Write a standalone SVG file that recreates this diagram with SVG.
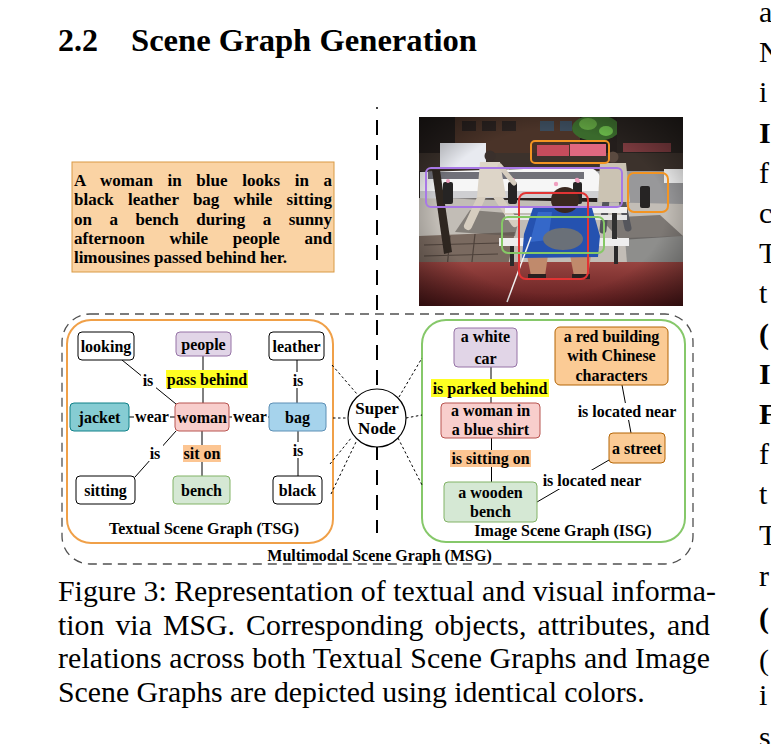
<svg xmlns="http://www.w3.org/2000/svg" width="771" height="744" viewBox="0 0 771 744">
<defs>
<style>
.t{font-family:"Liberation Serif","Times New Roman",serif;font-weight:bold;font-size:16px;text-anchor:middle;fill:#000}
.body{font-family:"Liberation Serif","Times New Roman",serif;font-size:29.8px;fill:#000}
.rc{font-family:"Liberation Serif","Times New Roman",serif;font-size:30px;fill:#000}
.nw{fill:#fff;stroke:#000;stroke-width:1}
.np{fill:#e1d5e7;stroke:#9673a6;stroke-width:1}
.nr{fill:#f8cecc;stroke:#b85450;stroke-width:1}
.ng{fill:#d5e8d4;stroke:#82b366;stroke-width:1}
.nt{fill:#86ccd3;stroke:#0e8088;stroke-width:1}
.nb{fill:#a6d3ec;stroke:#5d8fb5;stroke-width:1}
.no{fill:#fbcb95;stroke:#b46504;stroke-width:1}
.lbg{fill:#fff}
.ly{fill:#ffff22}
.lo{fill:#fcc592}
.e{stroke:#000;stroke-width:1;fill:none}
.d{stroke:#000;stroke-width:1;stroke-dasharray:2.5 2.5;fill:none}
.bb{fill:none;stroke-width:2}
</style>
<clipPath id="pc"><rect x="419" y="117" width="264" height="189"/></clipPath>
<radialGradient id="vig" cx="0.5" cy="0.5" r="0.72">
<stop offset="0.6" stop-color="#000" stop-opacity="0"/>
<stop offset="1" stop-color="#000" stop-opacity="0.55"/>
</radialGradient>
<linearGradient id="gr" x1="0" y1="0" x2="0" y2="1">
<stop offset="0" stop-color="#984440"/>
<stop offset="1" stop-color="#601c1e"/>
</linearGradient>
</defs>
<rect width="771" height="744" fill="#fff"/>

<!-- heading -->
<text x="58" y="51" style="font-family:'Liberation Serif','Times New Roman',serif;font-weight:bold;font-size:32px">2.2</text>
<text x="131" y="51" textLength="346" lengthAdjust="spacingAndGlyphs" style="font-family:'Liberation Serif','Times New Roman',serif;font-weight:bold;font-size:32px">Scene Graph Generation</text>

<!-- right column fragment -->
<g id="rightcol" class="rc">
<text x="759" y="22">a</text>
<text x="759" y="62">N</text>
<text x="759" y="102">i</text>
<text x="759" y="143" font-weight="bold">I</text>
<text x="759" y="183">f</text>
<text x="759" y="223">c</text>
<text x="759" y="263">T</text>
<text x="759" y="303">t</text>
<text x="759" y="344" font-weight="bold">(</text>
<text x="759" y="384" font-weight="bold">I</text>
<text x="759" y="424" font-weight="bold">F</text>
<text x="759" y="464">f</text>
<text x="759" y="504">t</text>
<text x="759" y="545">T</text>
<text x="759" y="586">r</text>
<text x="759" y="628" font-weight="bold">(</text>
<text x="759" y="670">(</text>
<text x="759" y="705">i</text>
<text x="759" y="747">s</text>
</g>

<!-- sentence box -->
<g id="sentence">
<rect x="72" y="162" width="262" height="110" fill="#fad3a4" stroke="#d99a45" stroke-width="1"/>
<g style="font-family:'Liberation Serif','Times New Roman',serif;font-weight:bold;font-size:17px">
<text x="74" y="186" textLength="258" lengthAdjust="spacing" word-spacing="10.4">A woman in blue looks in a</text>
<text x="74" y="205.3" textLength="258" lengthAdjust="spacing" word-spacing="10">black leather bag while sitting</text>
<text x="74" y="224.5" textLength="258" lengthAdjust="spacing" word-spacing="13.3">on a bench during a sunny</text>
<text x="74" y="243.8" textLength="258" lengthAdjust="spacing" word-spacing="20.5">afternoon while people and</text>
<text x="74" y="263" textLength="213" lengthAdjust="spacing">limousines passed behind her.</text>
</g>
</g>

<!-- photo -->
<g id="photo" clip-path="url(#pc)">
<rect x="419" y="117" width="264" height="189" fill="#241e1c"/>
<rect x="455" y="117" width="125" height="36" fill="#4a3328"/>
<rect x="462" y="121" width="14" height="10" fill="#2a2220"/>
<rect x="482" y="121" width="14" height="10" fill="#2a2220"/>
<rect x="502" y="121" width="14" height="10" fill="#2a2220"/>
<rect x="540" y="121" width="14" height="10" fill="#3a4a5a"/>
<rect x="560" y="121" width="12" height="10" fill="#3a4a5a"/>
<ellipse cx="596" cy="128" rx="24" ry="13" fill="#3a6a2c"/>
<ellipse cx="588" cy="124" rx="9" ry="6" fill="#5fa040"/>
<ellipse cx="606" cy="131" rx="7" ry="5" fill="#6ab84a"/>
<rect x="617" y="117" width="66" height="56" fill="#28221f"/>
<rect x="623" y="143" width="48" height="9" fill="#7a3a3e"/>
<rect x="419" y="153" width="264" height="18" fill="#3c322c"/>
<rect x="537" y="145" width="32" height="11" fill="#c64c5c"/>
<rect x="570" y="144" width="36" height="12" fill="#e06880"/>
<rect x="440" y="143" width="46" height="24" fill="#e8eaf0"/>
<rect x="597" y="171" width="86" height="42" fill="#98989a"/>
<rect x="664" y="169" width="19" height="14" fill="#f4f4f4"/>
<path d="M420,172 L588,167 Q601,170 602,184 L602,197 L420,199 Z" fill="#f6f6f6"/>
<rect x="428" y="172" width="156" height="7" fill="#707078"/>
<rect x="420" y="191" width="182" height="7" fill="#cfcfd2"/>
<path d="M419,198 L683,204 L683,262 L419,262 Z" fill="#c2bdb6"/>
<path d="M419,236 L515,232 L505,280 L419,282 Z" fill="#7a6a60"/>
<path d="M424,245 L500,243 M424,256 L498,254 M424,268 L496,266 M450,236 L446,280 M475,234 L470,280" stroke="#4e423b" stroke-width="1.2"/>
<path d="M625,238 L683,236 L683,300 L630,300 Z" fill="#8e8e8c"/>
<path d="M419,262 L683,262 L683,306 L419,306 Z" fill="url(#gr)"/>
<path d="M470,210 L520,214 L515,236 L455,232 Z" fill="#5a5550" opacity="0.6"/>
<path d="M600,218 L660,215 L683,236 L620,240 Z" fill="#4e4a48" opacity="0.6"/>
<path d="M432,170 L440,170 L452,252 L444,254 Z" fill="#2e2620"/>
<rect x="443" y="182" width="10" height="22" rx="2" fill="#262424"/>
<rect x="508" y="182" width="9" height="22" rx="2" fill="#262424"/>
<rect x="573" y="182" width="9" height="22" rx="2" fill="#262424"/>
<rect x="640" y="186" width="10" height="22" rx="2" fill="#262424"/>
<circle cx="448" cy="181" r="2" fill="#f0a0c0"/>
<circle cx="513" cy="180" r="2" fill="#f0a0c0"/>
<circle cx="578" cy="181" r="2" fill="#f0a0c0"/>
<!-- walking man left -->
<path d="M482,196 L468,226 M497,196 L515,223" stroke="#d6cdbf" stroke-width="8" stroke-linecap="round"/>
<path d="M480,162 L500,162 L506,197 L477,197 Z" fill="#ddd5c8"/>
<path d="M500,166 L514,183" stroke="#d6cdbf" stroke-width="5" stroke-linecap="round"/>
<circle cx="490" cy="156" r="5.5" fill="#3a302c"/>
<!-- man right -->
<path d="M606,200 L603,230 M622,200 L628,228" stroke="#55565c" stroke-width="7" stroke-linecap="round"/>
<path d="M600,163 L626,163 L630,202 L598,202 Z" fill="#cbc3b3"/>
<circle cx="613" cy="157" r="5.5" fill="#5a4a40"/>
<!-- bench -->
<rect x="505" y="207" width="122" height="6" fill="#f0f0f0"/>
<rect x="505" y="215" width="122" height="5" fill="#e6e6e6"/>
<rect x="499" y="238" width="130" height="8" fill="#eeeeee"/>
<rect x="510" y="246" width="4" height="20" fill="#2a2a2a"/>
<rect x="614" y="246" width="4" height="18" fill="#2a2a2a"/>
<rect x="612" y="213" width="5" height="26" fill="#303030"/>
<!-- woman -->
<path d="M527,255 L548,255 L545,276 L531,276 Z" fill="#c08a6c"/>
<path d="M570,255 L591,255 L588,276 L574,276 Z" fill="#c08a6c"/>
<rect x="528" y="274" width="18" height="5" fill="#2a2020"/>
<rect x="572" y="274" width="18" height="5" fill="#2a2020"/>
<path d="M533,208 L592,208 L600,236 L598,257 L522,258 L524,234 Z" fill="#2552b0"/>
<path d="M538,212 L552,212 L548,240 L530,242 Z" fill="#3a6ed0" opacity="0.8"/>
<ellipse cx="563" cy="239" rx="20" ry="11" fill="#6a7078"/>
<ellipse cx="565" cy="200" rx="14" ry="13" fill="#3a2820"/>
<circle cx="556" cy="184" r="2.2" fill="#f0a0c0"/>
<circle cx="577" cy="180" r="2.2" fill="#f0a0c0"/>
<line x1="531" y1="237" x2="507" y2="302" stroke="#f2f2f2" stroke-width="1.5"/>
<rect x="419" y="117" width="264" height="189" fill="url(#vig)"/>
<!-- detection boxes -->
<rect class="bb" x="531" y="141" width="78" height="22" rx="4" stroke="#f39422"/>
<rect class="bb" x="426" y="168" width="196" height="39" rx="5" stroke="#a878e6"/>
<rect class="bb" x="628" y="173" width="40" height="39" rx="6" stroke="#f39422"/>
<rect class="bb" x="519" y="193" width="69" height="86" rx="7" stroke="#e23434"/>
<rect class="bb" x="502" y="217" width="102" height="36" rx="6" stroke="#86c866"/>
</g>

<!-- frames -->
<g id="frames">
<line x1="377" y1="120" x2="377" y2="533" stroke="#000" stroke-width="2" stroke-dasharray="15 10"/>
<circle cx="377" cy="108" r="1" fill="#000"/>
<rect x="62" y="314" width="631" height="250" rx="28" fill="none" stroke="#505050" stroke-width="1.3" stroke-dasharray="9 6"/>
<rect x="67" y="320" width="266" height="223" rx="24" fill="none" stroke="#f0a048" stroke-width="2"/>
<rect x="422" y="320" width="263" height="222" rx="24" fill="none" stroke="#86c86a" stroke-width="2"/>
<text class="t" x="204" y="533.5">Textual Scene Graph (TSG)</text>
<text class="t" x="563" y="535.5">Image Scene Graph (ISG)</text>
<text class="t" x="379.5" y="560.5">Multimodal Scene Graph (MSG)</text>
</g>

<!-- connectors -->
<g id="connectors">
<line class="e" x1="122" y1="360" x2="176" y2="404"/>
<line class="e" x1="203" y1="356" x2="203" y2="403"/>
<line class="e" x1="297" y1="360" x2="297" y2="403"/>
<line class="e" x1="129" y1="417" x2="175" y2="417"/>
<line class="e" x1="229" y1="417" x2="269" y2="417"/>
<line class="e" x1="176" y1="431" x2="135" y2="477"/>
<line class="e" x1="202" y1="431" x2="202" y2="476"/>
<line class="e" x1="298" y1="431" x2="298" y2="476"/>
<line class="e" x1="491" y1="367" x2="491" y2="403"/>
<line class="e" x1="622" y1="385" x2="631" y2="433"/>
<line class="e" x1="491.5" y1="438" x2="491.5" y2="482"/>
<line class="e" x1="609" y1="460" x2="537" y2="502"/>
<line class="d" x1="332" y1="365" x2="357" y2="394"/>
<line class="d" x1="333" y1="418" x2="348" y2="418"/>
<line class="d" x1="330" y1="464" x2="352" y2="437"/>
<line class="d" x1="331" y1="494" x2="356" y2="442"/>
<line class="d" x1="399" y1="397" x2="422" y2="358"/>
<line class="d" x1="406" y1="418" x2="422" y2="415"/>
<line class="d" x1="398" y1="438" x2="422" y2="485"/>
<!-- edge labels -->
<rect class="lbg" x="141" y="372" width="15" height="16"/>
<text class="t" x="148" y="385.5">is</text>
<rect class="ly" x="166" y="370" width="82" height="18"/>
<text class="t" x="207" y="384.5">pass behind</text>
<rect class="lbg" x="291" y="372" width="15" height="16"/>
<text class="t" x="298" y="385.5">is</text>
<rect class="lbg" x="134" y="409" width="36" height="16"/>
<text class="t" x="152" y="422">wear</text>
<rect class="lbg" x="232" y="409" width="36" height="16"/>
<text class="t" x="250" y="422">wear</text>
<rect class="lbg" x="148" y="445" width="15" height="16"/>
<text class="t" x="155" y="458.5">is</text>
<rect class="lo" x="183" y="445" width="38" height="17"/>
<text class="t" x="202" y="458.5">sit on</text>
<rect class="lbg" x="291" y="442" width="15" height="16"/>
<text class="t" x="298" y="455.5">is</text>
<rect class="ly" x="431" y="379" width="118" height="18"/>
<text class="t" x="490" y="393.5">is parked behind</text>
<rect class="lbg" x="576" y="403" width="102" height="17"/>
<text class="t" x="627" y="417">is located near</text>
<rect class="lo" x="450" y="450" width="81" height="17"/>
<text class="t" x="490.5" y="464">is sitting on</text>
<rect class="lbg" x="541" y="470" width="102" height="19"/>
<text class="t" x="592" y="485.5">is located near</text>
</g>

<!-- TSG nodes -->
<g id="n-looking"><rect class="nw" x="78" y="332" width="56" height="28" rx="4"/><text class="t" x="106" y="351.5">looking</text></g>
<g id="n-people"><rect class="np" x="176" y="332" width="55" height="24" rx="4"/><text class="t" x="203.5" y="349.5">people</text></g>
<g id="n-leather"><rect class="nw" x="269" y="332" width="55" height="28" rx="4"/><text class="t" x="296.5" y="351.5">leather</text></g>
<g id="n-jacket"><rect class="nt" x="70" y="403" width="59" height="28" rx="4"/><text class="t" x="99.5" y="422.5">jacket</text></g>
<g id="n-woman"><rect class="nr" x="175" y="403" width="54" height="28" rx="4"/><text class="t" x="202" y="422.5">woman</text></g>
<g id="n-bag"><rect class="nb" x="269" y="403" width="57" height="28" rx="4"/><text class="t" x="297.5" y="422.5">bag</text></g>
<g id="n-sitting"><rect class="nw" x="76" y="476" width="59" height="28" rx="4"/><text class="t" x="105.5" y="495.5">sitting</text></g>
<g id="n-bench"><rect class="ng" x="173" y="476" width="57" height="28" rx="4"/><text class="t" x="201.5" y="495.5">bench</text></g>
<g id="n-black"><rect class="nw" x="273" y="476" width="49" height="28" rx="4"/><text class="t" x="297.5" y="495.5">black</text></g>

<!-- super node -->
<g id="n-super"><circle cx="377" cy="418" r="29" fill="#fff" stroke="#000" stroke-width="1.2"/>
<text class="t" x="377" y="414" style="font-size:17px">Super</text>
<text class="t" x="377" y="434" style="font-size:17px">Node</text></g>

<!-- ISG nodes -->
<g id="n-car"><rect class="np" x="454" y="328" width="63" height="39" rx="4"/><text class="t" x="485.5" y="342">a white</text><text class="t" x="485.5" y="363.5">car</text></g>
<g id="n-building"><rect class="no" x="555" y="327" width="113" height="58" rx="5"/><text class="t" x="611.5" y="342">a red building</text><text class="t" x="611.5" y="361">with Chinese</text><text class="t" x="611.5" y="381">characters</text></g>
<g id="n-woman2"><rect class="nr" x="441" y="403" width="99" height="35" rx="4"/><text class="t" x="490.5" y="415.5">a woman in</text><text class="t" x="490.5" y="435">a blue shirt</text></g>
<g id="n-street"><rect class="no" x="609" y="433" width="56" height="30" rx="4"/><text class="t" x="637" y="453.5">a street</text></g>
<g id="n-wbench"><rect class="ng" x="444" y="482" width="93" height="40" rx="4"/><text class="t" x="490.5" y="498">a wooden</text><text class="t" x="490.5" y="517">bench</text></g>

<!-- caption -->
<g id="caption" class="body">
<text x="58" y="601" textLength="658" lengthAdjust="spacing">Figure 3: Representation of textual and visual informa-</text>
<text x="58" y="635" textLength="652" lengthAdjust="spacing" word-spacing="3.6">tion via MSG. Corresponding objects, attributes, and</text>
<text x="58" y="668" textLength="652" lengthAdjust="spacing">relations across both Textual Scene Graphs and Image</text>
<text x="58" y="702">Scene Graphs are depicted using identical colors.</text>
</g>
</svg>
